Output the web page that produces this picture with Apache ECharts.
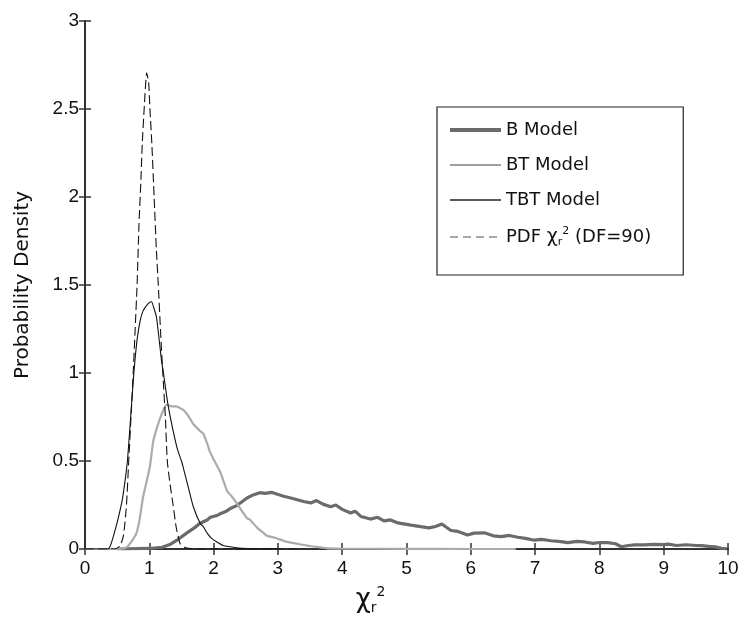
<!DOCTYPE html>
<html>
<head>
<meta charset="utf-8">
<script src="https://cdn.jsdelivr.net/npm/echarts@6/dist/echarts.min.js"></script>
<style>
html, body { margin: 0; padding: 0; background: #fff; }
#chart { width: 748px; height: 633px; }
</style>
</head>
<body>
<div id="chart"></div>
<script>
// values
const seriesNames = ['B Model', 'BT Model', 'TBT Model', 'PDF χr² (DF=90)'];
const xTicks = [0, 1, 2, 3, 4, 5, 6, 7, 8, 9, 10];
const yTicks = [0, 0.5, 1, 1.5, 2, 2.5, 3];

const bX = [0.5, 1.0, 1.2, 1.32, 1.45, 1.58, 1.7, 1.79, 1.9, 1.95, 2.05, 2.1, 2.2, 2.26, 2.35, 2.41, 2.52, 2.6, 2.72, 2.8, 2.9, 2.98, 3.09, 3.2, 3.3, 3.4, 3.51, 3.6, 3.7, 3.82, 3.9, 4.0, 4.13, 4.2, 4.29, 4.44, 4.55, 4.65, 4.75, 4.85, 4.91, 5.07, 5.22, 5.35, 5.45, 5.55, 5.69, 5.8, 5.95, 6.05, 6.21, 6.35, 6.47, 6.6, 6.73, 6.85, 6.99, 7.1, 7.25, 7.4, 7.51, 7.65, 7.77, 7.9, 8.0, 8.13, 8.25, 8.34, 8.45, 8.55, 8.7, 8.85, 9.0, 9.07, 9.2, 9.35, 9.5, 9.59, 9.7, 9.8, 9.9, 9.98];
const bY = [0, 0.003, 0.01, 0.025, 0.055, 0.09, 0.12, 0.146, 0.165, 0.18, 0.19, 0.2, 0.215, 0.23, 0.245, 0.26, 0.29, 0.305, 0.32, 0.316, 0.322, 0.312, 0.3, 0.29, 0.28, 0.27, 0.262, 0.275, 0.255, 0.24, 0.25, 0.225, 0.205, 0.215, 0.185, 0.17, 0.18, 0.16, 0.165, 0.15, 0.146, 0.136, 0.127, 0.12, 0.128, 0.142, 0.105, 0.1, 0.08, 0.09, 0.092, 0.075, 0.07, 0.077, 0.067, 0.06, 0.05, 0.055, 0.047, 0.042, 0.036, 0.043, 0.04, 0.032, 0.037, 0.036, 0.03, 0.013, 0.02, 0.023, 0.023, 0.026, 0.025, 0.028, 0.02, 0.024, 0.02, 0.019, 0.015, 0.012, 0.004, 0.001];

const btX = [0, 0.5, 0.6, 0.65, 0.72, 0.8, 0.85, 0.905, 0.95, 1.01, 1.06, 1.12, 1.165, 1.22, 1.27, 1.35, 1.42, 1.48, 1.53, 1.6, 1.685, 1.79, 1.84, 1.9, 1.945, 2.0, 2.1, 2.15, 2.21, 2.28, 2.36, 2.45, 2.52, 2.57, 2.68, 2.78, 2.83, 2.99, 3.1, 3.3, 3.5, 3.71, 3.77, 4.0, 5.0, 6.0, 6.7];
const btY = [0, 0, 0.003, 0.01, 0.04, 0.09, 0.17, 0.3, 0.37, 0.47, 0.61, 0.69, 0.74, 0.79, 0.82, 0.81, 0.81, 0.8, 0.79, 0.76, 0.71, 0.67, 0.655, 0.6, 0.55, 0.51, 0.44, 0.39, 0.33, 0.3, 0.26, 0.21, 0.175, 0.165, 0.12, 0.09, 0.075, 0.06, 0.045, 0.03, 0.017, 0.007, 0.004, 0.002, 0.001, 0, 0];

const tbtX = [0, 0.35, 0.385, 0.44, 0.52, 0.58, 0.62, 0.66, 0.71, 0.76, 0.81, 0.86, 0.9, 0.95, 1.0, 1.035, 1.07, 1.11, 1.15, 1.19, 1.22, 1.27, 1.3, 1.36, 1.435, 1.5, 1.53, 1.6, 1.685, 1.79, 1.84, 1.9, 1.97, 2.05, 2.15, 2.26, 2.4, 2.6, 3.0];
const tbtY = [0, 0, 0.01, 0.07, 0.18, 0.28, 0.38, 0.5, 0.75, 1.0, 1.19, 1.3, 1.35, 1.38, 1.4, 1.405, 1.37, 1.32, 1.2, 1.07, 1.0, 0.87, 0.8, 0.69, 0.57, 0.5, 0.46, 0.36, 0.24, 0.146, 0.127, 0.09, 0.06, 0.04, 0.02, 0.013, 0.005, 0.002, 0];

const pdfX = [0, 0.45, 0.5, 0.55, 0.6, 0.645, 0.68, 0.72, 0.75, 0.78, 0.81, 0.84, 0.87, 0.89, 0.92, 0.96, 0.99, 1.01, 1.04, 1.075, 1.11, 1.14, 1.18, 1.21, 1.25, 1.28, 1.33, 1.37, 1.42, 1.48, 1.55, 1.65, 2.0, 3.3];
const pdfY = [0, 0, 0.005, 0.02, 0.08, 0.25, 0.5, 0.78, 1.0, 1.25, 1.5, 1.85, 2.1, 2.3, 2.5, 2.706, 2.65, 2.5, 2.3, 2.0, 1.7, 1.5, 1.2, 1.0, 0.75, 0.5, 0.35, 0.25, 0.12, 0.03, 0.01, 0.002, 0, 0];

function zip(xs, ys) {
    return xs.map((x, i) => [x, ys[i]]);
}

const axisColor = '#333';
const tickFont = { fontFamily: 'Liberation Sans', fontSize: 19, color: '#111' };

let myChart = echarts.init(document.getElementById('chart'));
myChart.setOption({
    backgroundColor: '#fff',
    animation: false,
    grid: { left: 85, right: 20, top: 21, bottom: 84 },
    legend: {
        orient: 'vertical',
        left: 437,
        top: 107,
        padding: [14, 32, 27, 11],
        itemWidth: 51,
        itemHeight: 14,
        itemGap: 17,
        borderColor: '#222',
        borderWidth: 1.2,
        backgroundColor: '#fff',
        itemStyle: { opacity: 0 },
        data: [
            { name: seriesNames[0], lineStyle: { color: '#6b6b6b', width: 4 } },
            { name: seriesNames[1], lineStyle: { color: '#a0a0a0', width: 2 } },
            { name: seriesNames[2], lineStyle: { color: '#222', width: 1.6 } },
            { name: seriesNames[3], lineStyle: { color: '#8a8a8a', width: 1.6, type: [8, 5] } }
        ],
        formatter: function (name) {
            if (name.indexOf('PDF') === 0) {
                return '{t|PDF }{c|χ}{sub|r}{sup|2}{t| (DF=90)}';
            }
            return '{t|' + name + '}';
        },
        textStyle: {
            rich: {
                t: { fontFamily: 'DejaVu Sans', fontSize: 18, color: '#111', lineHeight: 22 },
                c: { fontFamily: 'DejaVu Sans', fontSize: 19, color: '#111', lineHeight: 22 },
                sub: { fontFamily: 'DejaVu Sans', fontSize: 11, color: '#111', verticalAlign: 'bottom', lineHeight: 22 },
                sup: { fontFamily: 'DejaVu Sans', fontSize: 11, color: '#111', verticalAlign: 'top', lineHeight: 22 }
            }
        }
    },
    xAxis: [
        {
            type: 'value',
            min: 0,
            max: 10,
            interval: 1,
            name: '{c|χ}{sub|r}{sup|2}',
            nameLocation: 'middle',
            nameGap: 36,
            nameTextStyle: {
                padding: [0, 72, 0, 0],
                rich: {
                    c: { fontFamily: 'DejaVu Sans', fontSize: 26, color: '#111', lineHeight: 30 },
                    sub: { fontFamily: 'DejaVu Sans', fontSize: 14, color: '#111', verticalAlign: 'bottom', lineHeight: 30 },
                    sup: { fontFamily: 'DejaVu Sans', fontSize: 14, color: '#111', verticalAlign: 'top', lineHeight: 30 }
                }
            },
            axisLine: { lineStyle: { color: axisColor, width: 2 } },
            axisTick: { inside: true, length: 6, lineStyle: { color: axisColor, width: 1.5 } },
            axisLabel: Object.assign({ margin: 10, customValues: xTicks }, tickFont),
            splitLine: { show: false }
        },
        {
            type: 'value',
            position: 'top',
            min: 0,
            max: 10,
            interval: 1,
            axisLine: { show: true, lineStyle: { color: axisColor, width: 2 } },
            axisTick: { show: true, inside: true, length: 6, lineStyle: { color: axisColor, width: 1.5 } },
            axisLabel: { show: false },
            splitLine: { show: false }
        }
    ],
    yAxis: [
        {
            type: 'value',
            min: 0,
            max: 3,
            interval: 0.5,
            name: 'Probability Density',
            nameLocation: 'middle',
            nameGap: 52,
            nameTextStyle: { fontFamily: 'DejaVu Sans', fontSize: 20, color: '#111' },
            axisLine: { show: true, lineStyle: { color: axisColor, width: 2 } },
            axisTick: { show: true, inside: true, length: 6, lineStyle: { color: axisColor, width: 1.5 } },
            axisLabel: Object.assign({ margin: 6, customValues: yTicks }, tickFont),
            splitLine: { show: false }
        },
        {
            type: 'value',
            position: 'right',
            min: 0,
            max: 3,
            interval: 0.5,
            axisLine: { show: true, lineStyle: { color: axisColor, width: 2 } },
            axisTick: { show: true, inside: true, length: 6, lineStyle: { color: axisColor, width: 1.5 } },
            axisLabel: { show: false },
            splitLine: { show: false }
        }
    ],
    series: [
        {
            name: seriesNames[0],
            type: 'line',
            symbol: 'none',
            lineStyle: { color: '#6b6b6b', width: 3.2 },
            itemStyle: { color: '#6b6b6b' },
            data: zip(bX, bY),
            z: 2
        },
        {
            name: seriesNames[1],
            type: 'line',
            symbol: 'none',
            smooth: 0.2,
            lineStyle: { color: '#ababab', width: 2.2 },
            itemStyle: { color: '#ababab' },
            data: zip(btX, btY),
            z: 3
        },
        {
            name: seriesNames[2],
            type: 'line',
            symbol: 'none',
            smooth: 0.2,
            lineStyle: { color: '#111', width: 1.1 },
            itemStyle: { color: '#111' },
            data: zip(tbtX, tbtY),
            z: 4
        },
        {
            name: seriesNames[3],
            type: 'line',
            symbol: 'none',
            smooth: 0.2,
            lineStyle: { color: '#111', width: 1.1, type: [9, 4] },
            itemStyle: { color: '#111' },
            data: zip(pdfX, pdfY),
            z: 5
        }
    ]
});
</script>
</body>
</html>
